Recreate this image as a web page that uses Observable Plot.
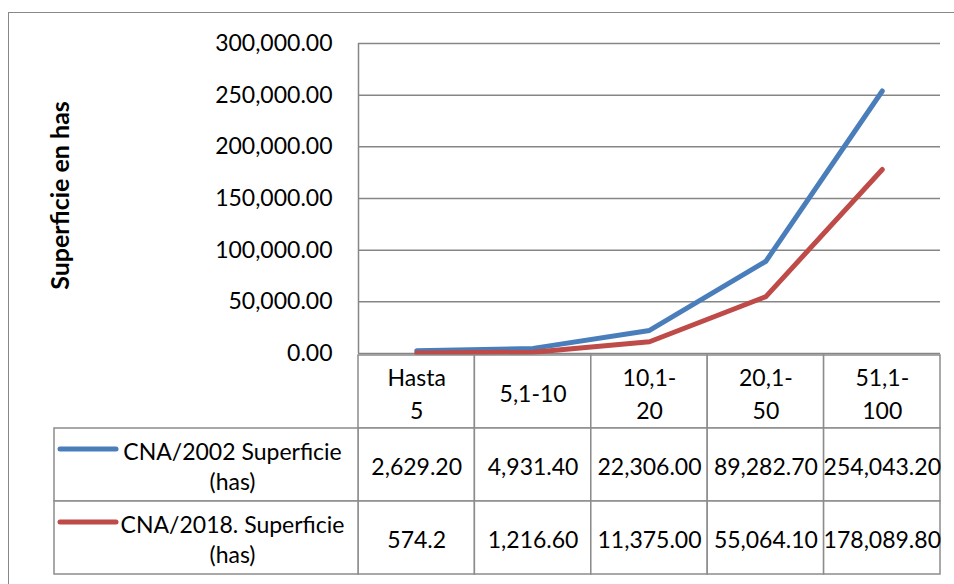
<!DOCTYPE html>
<html><head><meta charset="utf-8">
<script src="https://cdn.jsdelivr.net/npm/d3@7"></script>
<script src="https://cdn.jsdelivr.net/npm/@observablehq/plot@0.6"></script>
<style>
html,body{margin:0;padding:0;background:#fff;}
#wrap{position:relative;width:954px;height:584px;overflow:hidden;font-family:Lato,sans-serif;}
#frame{position:absolute;left:8px;top:12px;width:1200px;height:900px;border:1.5px solid #888;}
#chart{position:absolute;left:0;top:0;}
#table{position:absolute;left:0;top:353px;}
</style></head><body>
<div id="wrap"><div id="frame"></div><div id="chart"></div><div id="table"></div></div>
<script>
// ---- data ----
const categories = ["Hasta 5", "5,1-10", "10,1-20", "20,1-50", "51,1-100"];
const categoryLabels = ["Hasta\n5", "5,1-10", "10,1-\n20", "20,1-\n50", "51,1-\n100"];
const seriesNames = ["CNA/2002 Superficie (has)", "CNA/2018. Superficie (has)"];
const seriesLabels = ["CNA/2002 Superficie\n(has)", "CNA/2018. Superficie\n(has)"];
const cna2002 = [2629.20, 4931.40, 22306.00, 89282.70, 254043.20];
const cna2018 = [574.2, 1216.60, 11375.00, 55064.10, 178089.80];
const cna2002Text = ["2,629.20", "4,931.40", "22,306.00", "89,282.70", "254,043.20"];
const cna2018Text = ["574.2", "1,216.60", "11,375.00", "55,064.10", "178,089.80"];
const yTicks = [0, 50000, 100000, 150000, 200000, 250000, 300000];
const yTitle = "Superficie en has";
const colors = ["#4A7EBB", "#BE4B48"];

// ---- derived tables ----
const seriesValues = [cna2002, cna2018];
const seriesTexts = [cna2002Text, cna2018Text];
const points = [];
seriesNames.forEach((s, k) => seriesValues[k].forEach((v, i) => points.push({series: s, i, v})));
const rowKeys = ["header", ...seriesNames];
const cells = [];
categories.forEach((c, i) => {
  cells.push({row: "header", i, text: categoryLabels[i]});
  seriesNames.forEach((s, k) => cells.push({row: s, i, text: seriesTexts[k][i]}));
});
const legendRows = seriesNames.map((s, k) => ({row: s, label: seriesLabels[k], color: colors[k]}));
const xDomain = [-0.5, categories.length - 0.5];
const font = {fontFamily: "Lato, sans-serif", fontSize: "23px", color: "#000", background: "transparent", overflow: "visible"};

const chart = Plot.plot({
  width: 954, height: 356,
  marginLeft: 358, marginRight: 14, marginTop: 43, marginBottom: 3,
  style: font,
  x: {type: "linear", domain: xDomain, axis: null},
  y: {domain: [0, 300000], axis: null},
  color: {domain: seriesNames, range: colors},
  marks: [
    Plot.ruleY(yTicks, {stroke: "#868686", strokeWidth: 1.5}),
    Plot.ruleX([xDomain[0]], {stroke: "#868686", strokeWidth: 1.5}),
    Plot.text(yTicks, {y: d => d, frameAnchor: "left", textAnchor: "end", dx: -26, text: d => d3.format(",.2f")(d), fill: "#000"}),
    Plot.text([yTitle], {frameAnchor: "left", textAnchor: "middle", rotate: -90, dx: -298, dy: -3, fontWeight: "bold", fontSize: 25, fill: "#000"}),
    Plot.line(points, {x: "i", y: "v", z: "series", stroke: "series", strokeWidth: 5, strokeLinecap: "round", strokeLinejoin: "round"})
  ]
});
document.getElementById("chart").appendChild(chart);

const table = Plot.plot({
  width: 954, height: 231,
  marginLeft: 358, marginRight: 14, marginTop: 1, marginBottom: 9,
  style: font,
  x: {type: "linear", domain: xDomain, axis: null},
  y: {type: "band", domain: rowKeys, padding: 0, axis: null},
  marks: [
    Plot.barX(cells, {x1: d => d.i - 0.5, x2: d => d.i + 0.5, y: "row", fill: "white", stroke: "#8c8c8c", strokeWidth: 1.5}),
    Plot.barX(legendRows, {x1: () => xDomain[0], x2: () => xDomain[0], y: "row", insetLeft: -304, fill: "white", stroke: "#8c8c8c", strokeWidth: 1.5}),
    Plot.text(cells, {x: "i", y: "row", text: "text", lineHeight: 1.42, fill: "#000"}),
    Plot.ruleY(legendRows, {y: "row", x1: () => xDomain[0], x2: () => xDomain[0], insetLeft: -298, insetRight: 242, dy: -16, stroke: "color", strokeWidth: 5, strokeLinecap: "round"}),
    Plot.text(legendRows, {x: () => xDomain[0], y: "row", text: "label", dx: -126, lineHeight: 1.3, fill: "#000"})
  ]
});
document.getElementById("table").appendChild(table);
</script>
</body></html>
